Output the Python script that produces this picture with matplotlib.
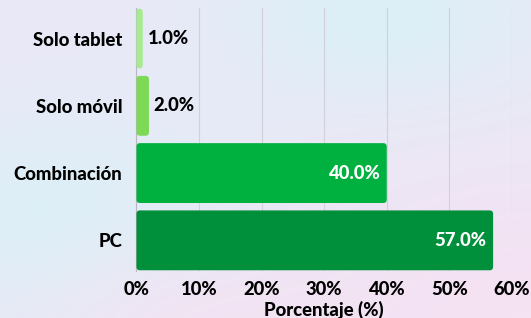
import numpy as np
import matplotlib
matplotlib.use("Agg")
import matplotlib.pyplot as plt
from matplotlib.patches import FancyBboxPatch

categories = ["PC", "Combinación", "Solo móvil", "Solo tablet"]
values = [57.0, 40.0, 2.0, 1.0]
colors = ["#008F3A", "#00B140", "#7ED957", "#A6EB8E"]
xticks = [0, 10, 20, 30, 40, 50, 60]
xticklabels = ["0%", "10%", "20%", "30%", "40%", "50%", "60%"]

plt.rcParams['font.family'] = ['Lato', 'DejaVu Sans']
FW = 900
FS = 13.3

fig = plt.figure(figsize=(5.31, 3.18), dpi=100)

# gradient background
bg = fig.add_axes([0, 0, 1, 1], zorder=-10)
bg.axis("off")
H, W = 160, 266
yy, xx = np.mgrid[0:1:H*1j, 0:1:W*1j]
def blob(cx, cy, s):
    return np.exp(-(((xx-cx)**2) + ((yy-cy)**2)) / (2*s*s))
base = np.array([234, 232, 246], float)
cyan = np.array([220, 240, 247], float)
pink = np.array([245, 226, 243], float)
w_c1 = blob(0.12, 0.7, 0.25)
w_c2 = blob(0.72, 0.05, 0.22)
w_p = blob(1.0, 1.0, 0.35) + 0.6 * blob(0.35, 1.05, 0.2)
img = np.ones((H, W, 3)) * base
for wgt, col in [(w_c1, cyan), (w_c2, cyan), (w_p, pink)]:
    wgt = np.clip(wgt, 0, 1)[..., None]
    img = img * (1 - wgt) + col * wgt
bg.imshow(img / 255.0, aspect="auto", extent=[0, 1, 0, 1], origin="upper")
bg.set_xlim(0, 1); bg.set_ylim(0, 1)

ax = fig.add_axes([0.257, 0.148, 0.707, 0.827])
ax.patch.set_alpha(0)
y = np.arange(len(categories))
bars = ax.barh(y, values, height=0.89, color=colors)
ax.set_xlim(0, 60)
ax.set_ylim(-0.455, 3.455)

# replace with rounded boxes
px_x = (0.707 * 531) / 60.0
px_y = (0.827 * 318) / 3.91
r_px = 3.5
for b in bars:
    x0, y0 = b.get_x(), b.get_y()
    w, h = b.get_width(), b.get_height()
    p = FancyBboxPatch((x0, y0), w, h,
                       boxstyle=f"round,pad=0,rounding_size={r_px/px_x}",
                       mutation_aspect=(px_x/px_y),
                       facecolor=b.get_facecolor(), edgecolor="none", zorder=3)
    ax.add_patch(p)
    b.set_visible(False)

for yi, v in zip(y, values):
    if v > 10:
        ax.annotate(f"{v:.1f}%", (v, yi), xytext=(-5, 0), textcoords="offset points",
                    ha="right", va="center", color="white", fontsize=FS,
                    fontweight=FW, zorder=5)
    else:
        ax.annotate(f"{v:.1f}%", (v, yi), xytext=(3.5, 0), textcoords="offset points",
                    ha="left", va="center", color="black", fontsize=FS,
                    fontweight=FW, zorder=5)

ax.set_yticks(y)
ax.set_yticklabels(categories, fontsize=FS, fontweight=FW)
ax.set_xticks(xticks)
ax.set_xticklabels(xticklabels, fontsize=FS, fontweight=FW)
ax.tick_params(length=0, pad=7)
ax.tick_params(axis="y", pad=10)
ax.grid(axis="x", color="#d2d1da", linewidth=0.8, zorder=0)
ax.set_axisbelow(True)
for s in ["top", "right", "bottom"]:
    ax.spines[s].set_visible(False)
ax.spines["left"].set_color("#b8b8c0")
ax.spines["left"].set_linewidth(0.8)
ax.set_xlabel("Porcentaje (%)", fontsize=FS, fontweight=FW, labelpad=2)

fig.savefig("out.png", dpi=100)
